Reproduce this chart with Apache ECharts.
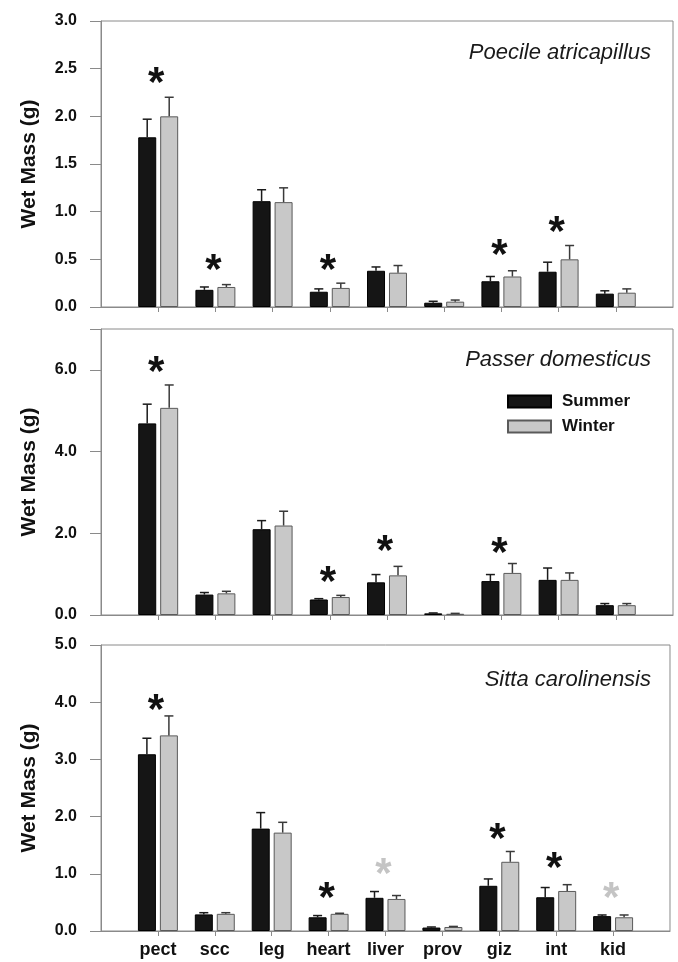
<!DOCTYPE html>
<html>
<head>
<meta charset="utf-8">
<script src="https://cdn.jsdelivr.net/npm/echarts@6/dist/echarts.min.js"></script>
<style>
html,body{margin:0;padding:0;background:#fff;}
#chart{width:678px;height:962px;}
</style>
</head>
<body>
<div id="chart"></div>
<script>
// ---- data ----
const categories = ['pect','scc','leg','heart','liver','prov','giz','int','kid'];
const seriesNames = ['Summer','Winter'];
const speciesNames = ['Poecile atricapillus','Passer domesticus','Sitta carolinensis'];

// Poecile atricapillus (top)
const poecileSummer   = [1.78, 0.18, 1.11, 0.16, 0.38, 0.045, 0.27, 0.37, 0.14];
const poecileSummerSE = [0.19, 0.03, 0.12, 0.03, 0.04, 0.015, 0.05, 0.10, 0.03];
const poecileWinter   = [2.00, 0.21, 1.10, 0.20, 0.36, 0.056, 0.32, 0.50, 0.15];
const poecileWinterSE = [0.20, 0.025, 0.15, 0.05, 0.075, 0.017, 0.06, 0.145, 0.04];
const poecileStarCats = ['pect','scc','heart','giz','int'];
const poecileStarY    = [2.42, 0.455, 0.458, 0.616, 0.857];
const poecileStarGray = [false, false, false, false, false];

// Passer domesticus (middle)
const passerSummer   = [4.69, 0.50, 2.10, 0.38, 0.80, 0.04, 0.83, 0.86, 0.24];
const passerSummerSE = [0.47, 0.05, 0.21, 0.02, 0.19, 0.01, 0.16, 0.29, 0.04];
const passerWinter   = [5.07, 0.53, 2.19, 0.44, 0.97, 0.03, 1.03, 0.86, 0.24];
const passerWinterSE = [0.56, 0.05, 0.35, 0.04, 0.22, 0.01, 0.23, 0.17, 0.04];
const passerStarCats = ['pect','heart','liver','giz'];
const passerStarY    = [6.12, 0.96, 1.72, 1.68];
const passerStarGray = [false, false, false, false];

// Sitta carolinensis (bottom)
const sittaSummer   = [3.09, 0.29, 1.79, 0.24, 0.58, 0.06, 0.79, 0.59, 0.26];
const sittaSummerSE = [0.28, 0.03, 0.28, 0.03, 0.11, 0.01, 0.12, 0.17, 0.02];
const sittaWinter   = [3.42, 0.30, 1.72, 0.30, 0.56, 0.07, 1.21, 0.70, 0.24];
const sittaWinterSE = [0.34, 0.02, 0.18, 0.01, 0.06, 0.01, 0.18, 0.11, 0.04];
const sittaStarCats = ['pect','heart','liver','giz','int','kid'];
const sittaStarY    = [3.98, 0.70, 1.11, 1.73, 1.21, 0.70];
const sittaStarGray = [false, false, true, false, false, true];

// axis ranges / ticks
const yMax      = [3, 7, 5];
const yInterval = [0.5, 2, 1];

// ---- chart ----
const FONT = '"Liberation Sans", Arial, sans-serif';
const axisCats = [' '].concat(categories).concat(['  ']);
const panels = [
  {s: poecileSummer, sse: poecileSummerSE, w: poecileWinter, wse: poecileWinterSE, sc: poecileStarCats, sy: poecileStarY, sg: poecileStarGray},
  {s: passerSummer, sse: passerSummerSE, w: passerWinter, wse: passerWinterSE, sc: passerStarCats, sy: passerStarY, sg: passerStarGray},
  {s: sittaSummer, sse: sittaSummerSE, w: sittaWinter, wse: sittaWinterSE, sc: sittaStarCats, sy: sittaStarY, sg: sittaStarGray}
];
const gridTops = [21, 329, 645];
const gridH = 286;
const BAR_OFF = 11;

function errRender(offset, color) {
  return function (params, api) {
    const x = api.value(0), m = api.value(1), s = api.value(2);
    const p0 = api.coord([x, m]);
    const p1 = api.coord([x, m + s]);
    const cx = p0[0] + offset;
    return {
      type: 'group',
      children: [
        {type: 'line', shape: {x1: cx, y1: p0[1], x2: cx, y2: p1[1]}, style: {stroke: color, lineWidth: 1.5}},
        {type: 'line', shape: {x1: cx - 4.5, y1: p1[1], x2: cx + 4.5, y2: p1[1]}, style: {stroke: color, lineWidth: 1.5}}
      ]
    };
  };
}

function starRender(grayFlags) {
  return function (params, api) {
    const x = api.value(0), y = api.value(1);
    const p = api.coord([x, y]);
    const gray = grayFlags[params.dataIndex];
    return {
      type: 'text', x: p[0] - 2, y: p[1] + 8,
      style: {text: '*', textAlign: 'center', textVerticalAlign: 'middle',
        font: 'bold 42px ' + FONT, fill: gray ? '#c4c4c4' : '#111'}
    };
  };
}

const grids = [], xAxes = [], yAxes = [], series = [], graphics = [];
panels.forEach((p, k) => {
  grids.push({left: 101, width: 572, top: gridTops[k], height: gridH, show: true, borderColor: '#8a8a8a', borderWidth: 1, containLabel: false});
  xAxes.push({
    type: 'category', gridIndex: k, data: axisCats, boundaryGap: false,
    axisLine: {lineStyle: {color: '#8a8a8a', width: 1}},
    axisTick: {show: true, length: 5, lineStyle: {color: '#8a8a8a'}, interval: function (i) { return i > 0 && i < axisCats.length - 1; }},
    axisLabel: {show: k === 2, interval: 0, margin: 10, color: '#111', fontFamily: FONT, fontWeight: 'bold', fontSize: 18},
    splitLine: {show: false}
  });
  yAxes.push({
    type: 'value', gridIndex: k, min: 0, max: yMax[k], interval: yInterval[k],
    name: 'Wet Mass (g)', nameLocation: 'middle', nameGap: 61,
    nameTextStyle: {color: '#111', fontFamily: FONT, fontWeight: 'bold', fontSize: 21},
    axisLine: {show: true, lineStyle: {color: '#8a8a8a', width: 1}},
    axisTick: {show: true, length: 11, lineStyle: {color: '#8a8a8a'}},
    axisLabel: {margin: 24, color: '#111', fontFamily: FONT, fontWeight: 'bold', fontSize: 16,
      formatter: function (v) { return (Math.abs(v - yMax[k]) < 1e-9 && (yMax[k] % yInterval[k]) !== 0) ? '' : v.toFixed(1); }},
    splitLine: {show: false}
  });
  series.push({
    name: seriesNames[0], type: 'bar', xAxisIndex: k, yAxisIndex: k, barWidth: 18, barGap: '22%',
    itemStyle: {color: '#151515', borderColor: '#000', borderWidth: 1},
    data: categories.map((c, i) => [c, p.s[i]]), z: 2
  });
  series.push({
    name: seriesNames[1], type: 'bar', xAxisIndex: k, yAxisIndex: k, barWidth: 18, barGap: '22%',
    itemStyle: {color: '#c8c8c8', borderColor: '#5a5a5a', borderWidth: 1},
    data: categories.map((c, i) => [c, p.w[i]]), z: 2
  });
  series.push({
    type: 'custom', xAxisIndex: k, yAxisIndex: k, renderItem: errRender(-BAR_OFF, '#1a1a1a'),
    encode: {x: 0, y: 1}, data: categories.map((c, i) => [c, p.s[i], p.sse[i]]), z: 3, silent: true
  });
  series.push({
    type: 'custom', xAxisIndex: k, yAxisIndex: k, renderItem: errRender(BAR_OFF, '#3a3a3a'),
    encode: {x: 0, y: 1}, data: categories.map((c, i) => [c, p.w[i], p.wse[i]]), z: 3, silent: true
  });
  series.push({
    type: 'custom', xAxisIndex: k, yAxisIndex: k, renderItem: starRender(p.sg), silent: true,
    encode: {x: 0, y: 1}, data: p.sc.map((c, i) => [c, p.sy[i]]), z: 4
  });
});

const speciesY = [53, 360, 680];
speciesNames.forEach((name, k) => {
  graphics.push({
    type: 'text', x: 651, y: speciesY[k],
    style: {text: name, textAlign: 'right', textVerticalAlign: 'middle', font: 'italic 22px ' + FONT, fill: '#1a1a1a'}
  });
});

const chart = echarts.init(document.getElementById('chart'), null, {renderer: 'canvas'});
chart.setOption({
  animation: false,
  backgroundColor: '#fff',
  grid: grids,
  xAxis: xAxes,
  yAxis: yAxes,
  legend: {
    data: seriesNames, orient: 'vertical', left: 502, top: 388, itemWidth: 43, itemHeight: 12, itemGap: 8,
    icon: 'rect', selectedMode: false,
    textStyle: {color: '#111', fontFamily: FONT, fontWeight: 'bold', fontSize: 17, padding: [0, 0, 0, 6]}
  },
  graphic: graphics,
  series: series
});
</script>
</body>
</html>
